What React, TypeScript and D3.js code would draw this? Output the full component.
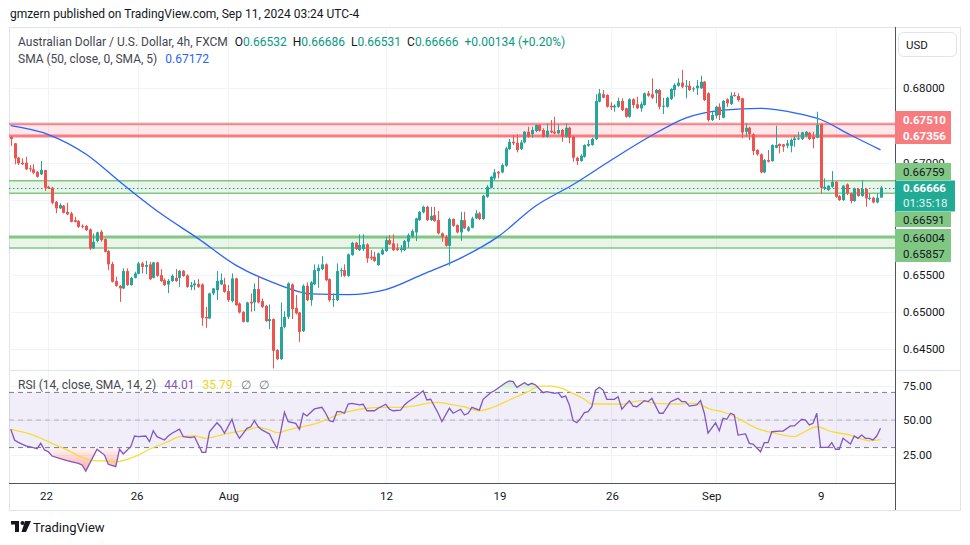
import React from 'react';
import * as d3 from 'd3';

// ---------- DATA (AUD/USD 4h, FXCM) ----------
const O = [
0.67343,0.67259,0.67066,0.66999,0.66999,0.66924,0.66911,0.66878,0.66844,0.66901,
0.66677,0.66664,0.66476,0.66388,0.66423,0.66342,0.66321,0.66231,0.66218,0.66155,
0.66151,0.66107,0.65852,0.65950,0.66075,0.65977,0.65816,0.65642,0.65414,0.65351,
0.65316,0.65548,0.65360,0.65458,0.65512,0.65651,0.65605,0.65638,0.65458,0.65664,
0.65494,0.65427,0.65369,0.65414,0.65458,0.65458,0.65552,0.65490,0.65337,0.65360,
0.65374,0.65370,0.64935,0.64914,0.65249,0.65293,0.65370,0.65370,0.65280,0.65146,
0.65450,0.65115,0.65002,0.64868,0.65137,0.65128,0.65307,0.65146,0.65083,0.64878,
0.64905,0.64490,0.64369,0.64801,0.64935,0.65370,0.65056,0.64994,0.64744,0.65351,
0.65159,0.65370,0.65548,0.65575,0.65638,0.65440,0.65159,0.65159,0.65548,0.65561,
0.65485,0.65762,0.65927,0.65829,0.65843,0.65906,0.65740,0.65740,0.65628,0.65772,
0.65816,0.65963,0.65919,0.65852,0.65829,0.65829,0.65941,0.66008,0.66066,0.66231,
0.66334,0.66409,0.66231,0.66298,0.66231,0.66053,0.66007,0.65887,0.66245,0.66164,
0.66066,0.66231,0.66088,0.66128,0.66254,0.66321,0.66245,0.66543,0.66664,0.66790,
0.66878,0.66870,0.66959,0.67183,0.67280,0.67267,0.67183,0.67272,0.67414,0.67384,
0.67424,0.67504,0.67437,0.67347,0.67428,0.67414,0.67393,0.67437,0.67347,0.67468,
0.67347,0.67066,0.67022,0.67079,0.67227,0.67236,0.67317,0.67817,0.67916,0.67906,
0.67763,0.67741,0.67749,0.67826,0.67728,0.67615,0.67849,0.67782,0.67728,0.67772,
0.67929,0.67916,0.67929,0.67973,0.67749,0.67749,0.67853,0.67973,0.68031,0.68071,
0.68017,0.68031,0.67983,0.67996,0.67996,0.68084,0.67929,0.67571,0.67629,0.67749,
0.67602,0.67849,0.67786,0.67906,0.67893,0.67862,0.67414,0.67468,0.67380,0.67170,
0.67112,0.66870,0.67035,0.67022,0.67200,0.67250,0.67246,0.67227,0.67223,0.67303,
0.67317,0.67317,0.67361,0.67400,0.67347,0.67334,0.67514,0.66656,0.66634,0.66677,
0.66744,0.66553,0.66500,0.66710,0.66589,0.66486,0.66647,0.66553,0.66647,0.66513,
0.66530,0.66468,0.66532];
const H = [
0.67357,0.67262,0.67079,0.67058,0.67079,0.66968,0.66978,0.66888,0.67022,0.66905,
0.66690,0.66677,0.66486,0.66455,0.66432,0.66463,0.66342,0.66275,0.66231,0.66174,
0.66164,0.66120,0.66053,0.66075,0.66097,0.65986,0.65829,0.65672,0.65472,0.65360,
0.65584,0.65584,0.65472,0.65539,0.65672,0.65672,0.65686,0.65672,0.65672,0.65672,
0.65575,0.65450,0.65440,0.65504,0.65575,0.65561,0.65561,0.65504,0.65404,0.65427,
0.65440,0.65383,0.65069,0.65258,0.65324,0.65548,0.65517,0.65458,0.65360,0.65517,
0.65458,0.65128,0.65011,0.65137,0.65249,0.65383,0.65472,0.65182,0.65092,0.65102,
0.64914,0.64503,0.65128,0.65011,0.65397,0.65383,0.65226,0.65002,0.65370,0.65397,
0.65414,0.65638,0.65638,0.65749,0.65651,0.65450,0.65249,0.65651,0.65592,0.65638,
0.65785,0.65940,0.65940,0.66040,0.66040,0.65920,0.65829,0.65807,0.65798,0.65852,
0.66008,0.66030,0.66040,0.65919,0.65897,0.65964,0.66053,0.66107,0.66263,0.66352,
0.66423,0.66423,0.66409,0.66409,0.66352,0.66066,0.66030,0.66263,0.66254,0.66174,
0.66342,0.66342,0.66151,0.66276,0.66365,0.66342,0.66566,0.66700,0.66825,0.66915,
0.66888,0.66991,0.67213,0.67317,0.67370,0.67380,0.67303,0.67424,0.67481,0.67481,
0.67513,0.67513,0.67460,0.67527,0.67571,0.67615,0.67513,0.67451,0.67527,0.67481,
0.67357,0.67079,0.67112,0.67246,0.67303,0.67334,0.67916,0.67987,0.67973,0.67916,
0.67808,0.67782,0.67870,0.67862,0.67736,0.67862,0.67862,0.67883,0.67816,0.67938,
0.67960,0.68130,0.67987,0.67987,0.67870,0.67883,0.67996,0.68063,0.68130,0.68241,
0.68107,0.68094,0.68017,0.68107,0.68165,0.68094,0.67942,0.67682,0.67763,0.67795,
0.67839,0.67862,0.67942,0.67942,0.67929,0.67870,0.67527,0.67481,0.67393,0.67179,
0.67125,0.67049,0.67170,0.67246,0.67495,0.67259,0.67250,0.67303,0.67326,0.67370,
0.67414,0.67414,0.67424,0.67414,0.67414,0.67682,0.67527,0.66790,0.66700,0.66888,
0.66754,0.66566,0.66700,0.66723,0.66603,0.66664,0.66656,0.66768,0.66656,0.66590,
0.66543,0.66590,0.66686];
const L = [
0.67223,0.66978,0.66968,0.66970,0.66901,0.66878,0.66844,0.66798,0.66834,0.66620,
0.66647,0.66442,0.66321,0.66380,0.66321,0.66298,0.66200,0.66200,0.66128,0.66120,
0.66084,0.65829,0.65843,0.65932,0.65940,0.65798,0.65561,0.65396,0.65338,0.65136,
0.65307,0.65351,0.65351,0.65450,0.65504,0.65517,0.65508,0.65427,0.65450,0.65472,
0.65404,0.65351,0.65253,0.65404,0.65404,0.65338,0.65472,0.65324,0.65293,0.65293,
0.65324,0.64815,0.64788,0.64905,0.65226,0.65161,0.65360,0.65258,0.65136,0.65128,
0.65083,0.64980,0.64860,0.64860,0.65002,0.65011,0.65115,0.65056,0.64869,0.64770,
0.64244,0.64356,0.64356,0.64781,0.64905,0.64905,0.64967,0.64600,0.64734,0.65146,
0.65083,0.65360,0.65324,0.65561,0.65414,0.65136,0.65069,0.65146,0.65472,0.65472,
0.65472,0.65753,0.65829,0.65816,0.65816,0.65659,0.65695,0.65673,0.65619,0.65762,
0.65807,0.65897,0.65816,0.65816,0.65798,0.65816,0.65860,0.65994,0.65950,0.66218,
0.66321,0.66218,0.66218,0.66209,0.66040,0.65940,0.65874,0.65619,0.66141,0.66053,
0.65954,0.66111,0.66075,0.66120,0.66245,0.66231,0.66231,0.66530,0.66656,0.66768,
0.66790,0.66857,0.66945,0.67170,0.67236,0.67138,0.67170,0.67259,0.67334,0.67334,
0.67407,0.67414,0.67334,0.67334,0.67393,0.67380,0.67380,0.67281,0.67334,0.67259,
0.67012,0.66968,0.67012,0.67066,0.67214,0.67227,0.67303,0.67808,0.67862,0.67736,
0.67705,0.67682,0.67736,0.67692,0.67602,0.67602,0.67728,0.67719,0.67682,0.67763,
0.67883,0.67853,0.67795,0.67715,0.67652,0.67736,0.67839,0.67884,0.68017,0.67996,
0.67862,0.67960,0.67950,0.67906,0.67987,0.67826,0.67548,0.67558,0.67594,0.67571,
0.67594,0.67749,0.67772,0.67883,0.67817,0.67326,0.67347,0.67303,0.67102,0.67093,
0.66857,0.66857,0.67004,0.67012,0.67192,0.67125,0.67146,0.67192,0.67138,0.67214,
0.67303,0.67303,0.67347,0.67303,0.67192,0.67326,0.66589,0.66634,0.66620,0.66664,
0.66530,0.66486,0.66486,0.66566,0.66455,0.66477,0.66543,0.66543,0.66410,0.66500,
0.66455,0.66455,0.66531];
const C = [
0.67317,0.67058,0.66991,0.66978,0.66911,0.66911,0.66865,0.66811,0.66901,0.66664,
0.66656,0.66463,0.66388,0.66432,0.66329,0.66308,0.66208,0.66208,0.66141,0.66141,
0.66097,0.65852,0.65940,0.66066,0.65963,0.65806,0.65638,0.65404,0.65351,0.65316,
0.65548,0.65360,0.65458,0.65517,0.65651,0.65605,0.65628,0.65441,0.65664,0.65485,
0.65414,0.65360,0.65418,0.65485,0.65414,0.65552,0.65481,0.65337,0.65360,0.65383,
0.65337,0.64922,0.64914,0.65249,0.65316,0.65418,0.65427,0.65270,0.65159,0.65450,
0.65092,0.64994,0.64868,0.65128,0.65115,0.65307,0.65128,0.65069,0.64878,0.64905,
0.64480,0.64369,0.64801,0.64935,0.65383,0.65039,0.64981,0.64734,0.65351,0.65159,
0.65397,0.65561,0.65592,0.65638,0.65427,0.65159,0.65173,0.65548,0.65561,0.65485,
0.65772,0.65927,0.65843,0.65896,0.65906,0.65718,0.65718,0.65682,0.65785,0.65829,
0.65963,0.65906,0.65829,0.65829,0.65852,0.65950,0.66030,0.66084,0.66254,0.66342,
0.66409,0.66231,0.66288,0.66218,0.66053,0.66007,0.65887,0.66245,0.66155,0.66066,
0.66231,0.66120,0.66133,0.66254,0.66321,0.66245,0.66557,0.66677,0.66811,0.66870,
0.66857,0.66968,0.67192,0.67280,0.67259,0.67169,0.67272,0.67414,0.67347,0.67437,
0.67504,0.67428,0.67347,0.67428,0.67406,0.67393,0.67437,0.67347,0.67468,0.67334,
0.67066,0.67022,0.67093,0.67236,0.67250,0.67317,0.67826,0.67929,0.67870,0.67749,
0.67741,0.67763,0.67826,0.67705,0.67615,0.67849,0.67772,0.67728,0.67782,0.67929,
0.67897,0.67870,0.67973,0.67749,0.67763,0.67870,0.67987,0.68040,0.68071,0.68017,
0.68031,0.67973,0.67996,0.68031,0.68084,0.67839,0.67571,0.67638,0.67749,0.67638,
0.67826,0.67795,0.67897,0.67893,0.67839,0.67406,0.67468,0.67380,0.67156,0.67112,
0.66870,0.67035,0.67012,0.67236,0.67236,0.67223,0.67214,0.67259,0.67303,0.67326,
0.67326,0.67406,0.67414,0.67317,0.67317,0.67504,0.66664,0.66677,0.66690,0.66744,
0.66543,0.66500,0.66691,0.66589,0.66486,0.66656,0.66553,0.66647,0.66522,0.66530,
0.66468,0.66530,0.66666];

// SMA(50) at candle indices
const smaIdx = [0,10,20,30,40,50,60,70,80,90,100,110,120,130,140,150,160,170,180,190,200,210,216,224,232];
const smaVal = [0.67495,0.67377,0.67116,0.66707,0.66318,0.65983,0.65628,0.65394,0.65244,0.65233,0.65300,0.65507,0.65722,0.66010,0.66419,0.66707,0.67029,0.67337,0.67598,0.67705,0.67728,0.67658,0.67578,0.67370,0.67172];

// RSI(14) vertices
const rsiIdx = [0,1,2,4,6,7,8,9,10,11,13,15,18,19,20,23,25,26,28,29,30,32,33,34,36,37,38,39,41,42,43,45,46,48,49,51,52,53,55,56,57,59,60,61,63,64,65,66,67,69,70,71,72,73,74,76,77,78,79,81,83,84,85,86,87,88,89,90,91,93,94,95,97,98,100,101,102,104,105,106,108,110,111,112,114,115,117,118,120,121,122,123,125,126,128,129,132,133,134,135,137,138,139,140,142,143,145,146,147,148,149,150,151,152,153,154,155,156,157,158,159,161,162,163,165,166,167,169,170,171,173,174,176,178,179,180,181,183,184,185,186,188,189,190,191,192,193,194,196,197,198,200,201,202,203,205,206,208,209,211,212,213,214,215,216,218,219,220,221,222,224,225,226,227,228,229,230,231,232];
const rsiVal = [43.3,35.5,33.8,31.2,29.9,29.2,33.1,28.3,27.0,23.9,22.2,20.5,18.6,17.4,13.0,28.8,24.6,17.9,16.2,28.8,25.4,30.7,38.4,37.9,38.4,34.3,42.2,37.9,35.5,38.4,40.4,43.3,37.9,37.2,37.9,26.6,26.6,41.5,48.0,45.1,40.4,50.5,41.5,36.7,44.0,45.1,49.5,45.1,42.8,39.9,34.3,29.5,41.5,55.6,48.8,47.6,43.3,54.9,52.9,58.0,59.2,54.9,49.5,48.8,56.0,56.0,54.9,61.6,62.1,60.9,61.4,56.7,56.7,58.5,61.4,57.8,56.7,57.2,60.9,63.3,66.9,71.2,64.5,65.0,54.9,48.8,58.5,54.9,57.8,53.6,54.9,59.2,57.2,65.0,69.8,71.2,77.0,78.3,77.8,73.7,77.0,75.4,76.6,75.4,69.8,70.5,69.3,69.8,66.4,67.4,60.9,49.5,48.0,51.2,55.3,56.0,59.6,71.7,73.7,71.7,65.0,65.0,66.9,57.8,64.0,60.1,59.6,64.0,63.3,65.7,54.9,54.9,63.3,65.7,63.3,63.3,60.1,60.9,64.0,54.9,40.4,48.0,42.2,51.2,50.5,54.9,53.6,39.1,39.9,33.1,32.6,27.0,33.6,33.6,41.5,42.0,42.0,45.7,45.7,50.5,50.0,46.4,47.6,54.9,30.2,30.2,33.6,28.8,28.8,36.7,32.6,38.4,36.7,39.1,36.7,36.7,35.5,38.4,44.01];

// RSI-based SMA(14) vertices
const rsiMaIdx = [0,2,6,10,15,19,22,26,28,31,34,37,42,45,49,52,56,59,63,66,69,71,74,77,82,86,90,95,99,104,108,111,114,117,121,125,129,133,138,141,144,147,150,153,155,160,163,168,172,178,183,186,191,194,199,202,206,209,211,215,219,224,229,232];
const rsiMaVal = [43.3,42.0,39.1,34.3,28.3,23.0,20.5,20.3,19.6,21.5,24.6,28.8,34.3,37.9,38.4,36.7,39.1,40.8,42.8,44.7,42.8,40.8,42.8,44.7,48.0,52.4,56.0,58.5,59.2,59.2,60.4,62.1,62.8,61.4,59.6,56.7,59.6,64.5,70.5,74.6,74.6,73.0,69.3,65.0,61.6,61.6,61.4,64.0,62.1,61.6,62.1,58.5,54.9,51.2,44.0,41.5,39.1,37.9,40.4,45.1,41.5,39.1,35.0,35.79];

const timeGridIdx = [10, 34, 58, 100, 130, 160, 188, 220];
const timeLabelIdx = [9.5, 33.7, 58.2, 100.2, 130.5, 160.5, 187, 216.2];
const timeTickLabels = ['22', '26', 'Aug', '12', '19', '26', 'Sep', '9'];
const priceTicks = [0.645, 0.65, 0.655, 0.66, 0.665, 0.67, 0.675, 0.68];
const priceTickLabels = [0.645, 0.65, 0.655, 0.67, 0.68];
const rsiTicks = [25, 50, 75];

const redZone = [0.67356, 0.67510, 0.67528];
const greenZone1 = [0.66591, 0.66759];
const greenZone2 = [0.65857, 0.66004];
const lastPrice = 0.66666;
const smaLast = '0.67172';
const rsiLast = '44.01';
const rsiMaLast = '35.79';
const countdown = '01:35:18';

const UP = '#26a69a';
const DOWN = '#ef5350';
const FONT = 'Roboto, "Noto Sans", sans-serif';

export default function App() {
  const PL = 9, PR = 895, PT = 27, PB = 370, RB = 483, TB = 510, FR = 960;
  const x = d3.scaleLinear().domain([0, 232]).range([10.8, 880.5]);
  const y = d3.scaleLinear().domain([0.645, 0.68]).range([349.35, 88]);
  const ry = d3.scaleLinear().domain([25, 75]).range([454.5, 385.5]);

  const smaLine = d3.line<number>().x((d, i) => x(smaIdx[i])).y(d => y(d)).curve(d3.curveMonotoneX)(smaVal) || '';
  const rsiPts = rsiIdx.map((d, i) => [x(d), ry(rsiVal[i])] as [number, number]);
  const rsiLine = d3.line()(rsiPts) || '';
  const maLine = d3.line<number>().x((d, i) => x(rsiMaIdx[i])).y(d => ry(d)).curve(d3.curveMonotoneX)(rsiMaVal) || '';
  const lowArea = d3.area<[number, number]>().x(d => d[0]).y0(ry(30)).y1(d => d[1])(rsiPts) || '';
  const highArea = d3.area<[number, number]>().x(d => d[0]).y0(ry(70)).y1(d => d[1])(rsiPts) || '';

  const t = (s: string, xx: number, yy: number, props: any = {}) => (
    <text x={xx} y={yy} dominantBaseline="central" fontFamily={FONT} {...props}>{s}</text>
  );
  const f5 = d3.format('.5f');

  return (
    <div style={{ position: 'absolute', left: 0, top: 0, width: 970, height: 545, background: '#fff' }}>
      <svg width={970} height={545} style={{ display: 'block' }}>
        <defs>
          <clipPath id="pane"><rect x={PL} y={PT} width={PR - PL} height={PB - PT} /></clipPath>
          <clipPath id="rpane"><rect x={PL} y={PB} width={PR - PL} height={RB - PB} /></clipPath>
          <clipPath id="below30"><rect x={PL} y={ry(30)} width={PR - PL} height={RB - ry(30)} /></clipPath>
          <clipPath id="above70"><rect x={PL} y={PB} width={PR - PL} height={ry(70) - PB} /></clipPath>
          <linearGradient id="gLow" x1="0" y1={ry(30)} x2="0" y2={ry(10)} gradientUnits="userSpaceOnUse">
            <stop offset="0" stopColor="#ff5252" stopOpacity="0.05" />
            <stop offset="1" stopColor="#ff5252" stopOpacity="0.6" />
          </linearGradient>
          <linearGradient id="gHigh" x1="0" y1={ry(70)} x2="0" y2={ry(85)} gradientUnits="userSpaceOnUse">
            <stop offset="0" stopColor="#4caf50" stopOpacity="0.05" />
            <stop offset="1" stopColor="#4caf50" stopOpacity="0.45" />
          </linearGradient>
        </defs>
        <rect x={0} y={0} width={970} height={545} fill="#fff" />

        {/* header */}
        {t('gmzern published on TradingView.com, Sep 11, 2024 03:24 UTC-4', 10, 14, { fontSize: 12, fill: '#131722' })}

        {/* frame */}
        <rect x={PL + 0.5} y={PT + 0.5} width={FR - PL} height={TB - PT} fill="none" stroke="#e0e3eb" />

        {/* grid */}
        <g stroke="#f0f3fa" strokeWidth={1}>
          {priceTicks.map(p => <line key={p} x1={PL} x2={PR} y1={Math.round(y(p)) + 0.5} y2={Math.round(y(p)) + 0.5} />)}
          {rsiTicks.map(v => <line key={v} x1={PL} x2={PR} y1={Math.round(ry(v)) + 0.5} y2={Math.round(ry(v)) + 0.5} />)}
          {timeGridIdx.map(i => <line key={i} x1={Math.round(x(i)) + 0.5} x2={Math.round(x(i)) + 0.5} y1={PT} y2={RB} />)}
        </g>

        {/* zones */}
        <g clipPath="url(#pane)">
          <rect x={PL} y={y(redZone[2])} width={PR - PL} height={y(redZone[0]) - y(redZone[2])} fill="#f23645" fillOpacity={0.12} />
          <line x1={PL} x2={PR} y1={y(redZone[2])} y2={y(redZone[2])} stroke="#f77c80" strokeWidth={1} />
          <line x1={PL} x2={PR} y1={y(redZone[1])} y2={y(redZone[1])} stroke="#f77c80" strokeWidth={1} />
          <line x1={PL} x2={PR} y1={y(redZone[0])} y2={y(redZone[0])} stroke="#f77c80" strokeWidth={3} />

          <rect x={PL} y={y(greenZone1[1])} width={PR - PL} height={y(greenZone1[0]) - y(greenZone1[1])} fill="#4caf50" fillOpacity={0.13} />
          <line x1={PL} x2={PR} y1={y(greenZone1[1])} y2={y(greenZone1[1])} stroke="#81c784" strokeWidth={1.5} />
          <line x1={PL} x2={PR} y1={y(greenZone1[0])} y2={y(greenZone1[0])} stroke="#81c784" strokeWidth={1.5} />

          <rect x={PL} y={y(greenZone2[1])} width={PR - PL} height={y(greenZone2[0]) - y(greenZone2[1])} fill="#4caf50" fillOpacity={0.13} />
          <line x1={PL} x2={PR} y1={y(greenZone2[1])} y2={y(greenZone2[1])} stroke="#81c784" strokeWidth={3} />
          <line x1={PL} x2={PR} y1={y(greenZone2[0])} y2={y(greenZone2[0])} stroke="#81c784" strokeWidth={1.5} />

          <line x1={PL} x2={PR} y1={Math.round(y(lastPrice)) + 0.5} y2={Math.round(y(lastPrice)) + 0.5} stroke="#089981" strokeWidth={1} strokeDasharray="1.5 2.5" />
        </g>

        {/* SMA */}
        <path d={smaLine} fill="none" stroke="#2962ff" strokeWidth={1.3} clipPath="url(#pane)" />

        {/* candles */}
        <g clipPath="url(#pane)">
          {C.map((c, i) => {
            const o = O[i];
            const col = c >= o ? UP : DOWN;
            const cx = Math.round(x(i));
            const yt = y(Math.max(o, c));
            const yb = y(Math.min(o, c));
            return (
              <g key={i}>
                <line x1={cx + 0.5} x2={cx + 0.5} y1={y(H[i])} y2={y(L[i])} stroke={col} strokeWidth={1} />
                <rect x={cx - 1} y={yt} width={3} height={Math.max(1, yb - yt)} fill={col} />
              </g>
            );
          })}
        </g>

        {/* legend */}
        <text x={18} y={42} dominantBaseline="central" fontFamily={FONT} fontSize={12} fill="#434651">
          Australian Dollar / U.S. Dollar, 4h, FXCM
          <tspan dx={7} fill="#131722">O</tspan><tspan fill="#089981">0.66532</tspan>
          <tspan dx={6} fill="#131722">H</tspan><tspan fill="#089981">0.66686</tspan>
          <tspan dx={6} fill="#131722">L</tspan><tspan fill="#089981">0.66531</tspan>
          <tspan dx={6} fill="#131722">C</tspan><tspan fill="#089981">0.66666</tspan>
          <tspan dx={6} fill="#089981">+0.00134 (+0.20%)</tspan>
        </text>
        <text x={18} y={59} dominantBaseline="central" fontFamily={FONT} fontSize={12} fill="#434651">
          SMA (50, close, 0, SMA, 5)<tspan dx={8} fill="#2962ff">{smaLast}</tspan>
        </text>

        {/* RSI pane */}
        <line x1={PL} x2={FR} y1={PB + 0.5} y2={PB + 0.5} stroke="#e0e3eb" strokeWidth={1} />
        <rect x={PL} y={ry(70)} width={PR - PL} height={ry(30) - ry(70)} fill="#7e57c2" fillOpacity={0.1} />
        <g clipPath="url(#rpane)">
          <path d={lowArea} fill="url(#gLow)" clipPath="url(#below30)" />
          <path d={highArea} fill="url(#gHigh)" clipPath="url(#above70)" />
        </g>
        <line x1={PL} x2={PR} y1={ry(70)} y2={ry(70)} stroke="#787b86" strokeDasharray="5 4" />
        <line x1={PL} x2={PR} y1={ry(50)} y2={ry(50)} stroke="#787b86" strokeOpacity={0.5} strokeDasharray="5 4" />
        <line x1={PL} x2={PR} y1={ry(30)} y2={ry(30)} stroke="#787b86" strokeDasharray="5 4" />
        <g clipPath="url(#rpane)">
          <path d={maLine} fill="none" stroke="#f5dc3a" strokeWidth={1.3} />
          <path d={rsiLine} fill="none" stroke="#7e57c2" strokeWidth={1.3} />
        </g>
        <text x={18} y={385} dominantBaseline="central" fontFamily={FONT} fontSize={12} fill="#434651">
          RSI (14, close, SMA, 14, 2)
          <tspan dx={8} fill="#7e57c2">{rsiLast}</tspan>
          <tspan dx={8} fill="#f2d21b">{rsiMaLast}</tspan>
          <tspan dx={8} fill="#787b86">∅</tspan>
          <tspan dx={8} fill="#787b86">∅</tspan>
        </text>

        {/* axes separators */}
        <line x1={PR + 0.5} x2={PR + 0.5} y1={PT} y2={TB} stroke="#50535e" strokeWidth={1} />
        <line x1={PL} x2={PR} y1={RB + 0.5} y2={RB + 0.5} stroke="#50535e" strokeWidth={1} />

        {/* price axis */}
        <rect x={898.5} y={32.5} width={58} height={24} rx={5} fill="#fff" stroke="#e0e3eb" />
        {t('USD', 906, 44.5, { fontSize: 11.5, fill: '#131722' })}
        {priceTickLabels.map(p => <g key={p}>{t(f5(p), 903, y(p), { fontSize: 11.5, fill: '#131722' })}</g>)}

        <rect x={PR} y={111} width={56} height={33} fill="#f77c80" />
        {t(f5(redZone[1]), 903, 120, { fontSize: 11.5, fill: '#fff', fontWeight: 700 })}
        {t(f5(redZone[0]), 903, 136, { fontSize: 11.5, fill: '#fff', fontWeight: 700 })}

        <rect x={PR} y={163} width={56} height={17} fill="#81c784" />
        {t(f5(greenZone1[1]), 903, 171.5, { fontSize: 11.5, fill: '#131722' })}
        <rect x={PR} y={180.5} width={60} height={31} fill="#22ab94" />
        {t(f5(lastPrice), 903, 188, { fontSize: 11.5, fill: '#fff', fontWeight: 700 })}
        {t(countdown, 903, 203, { fontSize: 11.5, fill: '#e6f5f2' })}
        <rect x={PR} y={212} width={56} height={15} fill="#81c784" />
        {t(f5(greenZone1[0]), 903, 219.5, { fontSize: 11.5, fill: '#131722' })}
        <rect x={PR} y={229} width={56} height={33} fill="#81c784" />
        {t(f5(greenZone2[1]), 903, 238, { fontSize: 11.5, fill: '#131722' })}
        {t(f5(greenZone2[0]), 903, 254, { fontSize: 11.5, fill: '#131722' })}

        {rsiTicks.map(v => <g key={v}>{t(d3.format('.2f')(v), 903, ry(v), { fontSize: 11.5, fill: '#131722' })}</g>)}

        {/* time axis */}
        {timeLabelIdx.map((i, k) => (
          <g key={k}>{t(timeTickLabels[k], x(i), 496, { fontSize: 11.5, fill: '#131722', textAnchor: 'middle' })}</g>
        ))}

        {/* logo */}
        <g fill="#131722">
          <rect x={11} y={521} width={8} height={3.5} />
          <rect x={15} y={521} width={4} height={11} />
          <circle cx={22.5} cy={523} r={2} />
          <path d="M25 521 L31 521 L26 532 L21.5 532 Z" />
        </g>
        {t('TradingView', 33, 527, { fontSize: 13, fill: '#131722' })}
      </svg>
    </div>
  );
}
